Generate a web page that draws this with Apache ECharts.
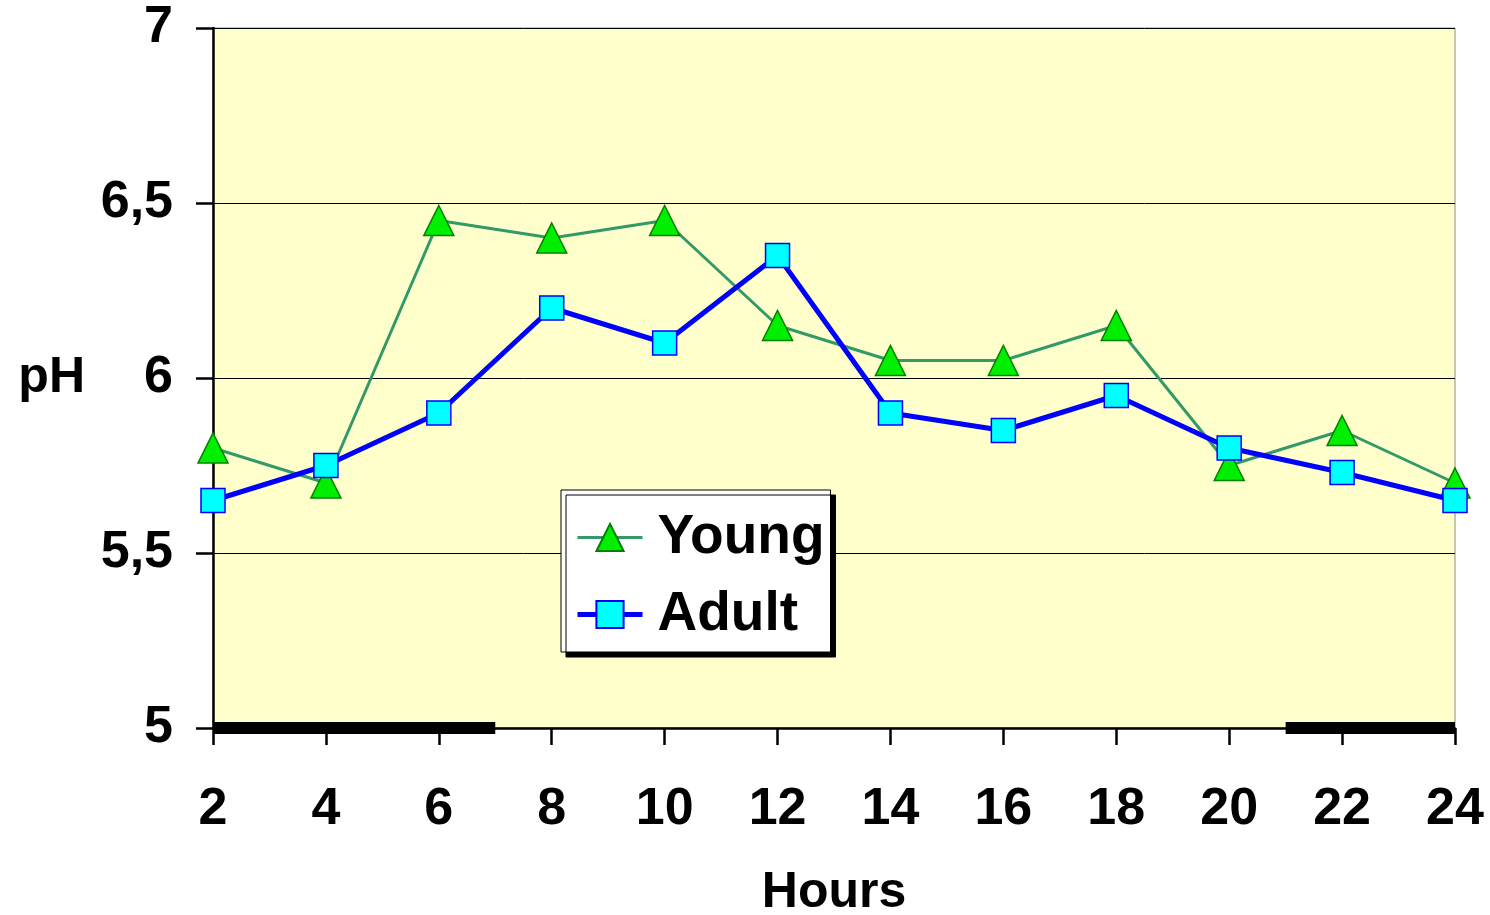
<!DOCTYPE html>
<html>
<head>
<meta charset="utf-8">
<script src="https://cdn.jsdelivr.net/npm/echarts@6/dist/echarts.min.js"></script>
<style>
  html, body { margin: 0; padding: 0; background: #fff; }
  #chart { width: 1490px; height: 915px; }
</style>
</head>
<body>
<div id="chart"></div>
<script>
// Sampling hours
const hours = [2, 4, 6, 8, 10, 12, 14, 16, 18, 20, 22, 24];
// pH of young animals
const young = [5.8, 5.7, 6.45, 6.4, 6.45, 6.15, 6.05, 6.05, 6.15, 5.75, 5.85, 5.7];
// pH of adult animals
const adult = [5.65, 5.75, 5.9, 6.2, 6.1, 6.35, 5.9, 5.85, 5.95, 5.8, 5.73, 5.65];
// Dark periods shown as black bars along the time axis [start hour, end hour]
const darkPeriods = [[2, 7], [21, 24]];

const FONT = '"Liberation Sans", Arial, sans-serif';

const chart = echarts.init(document.getElementById('chart'), null, { renderer: 'canvas' });

chart.setOption({
  animation: false,
  backgroundColor: '#ffffff',
  grid: {
    left: 213, right: 35, top: 28, bottom: 187,
    outerBoundsMode: 'none',
    containLabel: false,
    show: true,
    backgroundColor: '#FFFFCC',
    borderColor: '#8c8c8c',
    borderWidth: 1
  },
  legend: {
    left: 561, top: 490,
    orient: 'vertical',
    padding: [20, 6, 10, 14],
    itemGap: 22,
    itemWidth: 65,
    itemHeight: 34,
    backgroundColor: '#ffffff',
    borderColor: '#000000',
    borderWidth: 1,
    borderRadius: 0,
    shadowColor: '#000000',
    shadowBlur: 0,
    shadowOffsetX: 5,
    shadowOffsetY: 5,
    lineStyle: { width: 'inherit' },
    textStyle: {
      fontFamily: FONT, fontWeight: 'bold', fontSize: 55, color: '#000',
      padding: [0, 0, 0, 10]
    },
    data: ['Young', 'Adult']
  },
  xAxis: {
    type: 'value',
    min: 2, max: 24, interval: 2,
    name: 'Hours',
    nameLocation: 'middle',
    nameGap: 140,
    nameTextStyle: { fontFamily: FONT, fontWeight: 'bold', fontSize: 50, color: '#000' },
    axisLine: { show: true, onZero: false, lineStyle: { color: '#000', width: 2.5 } },
    axisTick: { show: true, inside: false, length: 17, lineStyle: { color: '#000', width: 2.5 } },
    axisLabel: { margin: 56, fontFamily: FONT, fontWeight: 'bold', fontSize: 52, color: '#000' },
    splitLine: { show: false }
  },
  yAxis: {
    type: 'value',
    min: 5, max: 7, interval: 0.5,
    name: 'pH',
    nameLocation: 'middle',
    nameRotate: 0,
    nameGap: 128,
    nameTextStyle: { fontFamily: FONT, fontWeight: 'bold', fontSize: 50, color: '#000' },
    axisLine: { show: true, lineStyle: { color: '#000', width: 2.5 } },
    axisTick: { show: true, inside: false, length: 17, lineStyle: { color: '#000', width: 2.5 } },
    axisLabel: {
      margin: 40, fontFamily: FONT, fontWeight: 'bold', fontSize: 52, color: '#000',
      formatter: v => String(v).replace('.', ',')
    },
    splitLine: { show: true, lineStyle: { color: '#000', width: 1 } }
  },
  series: [
    {
      name: 'Young',
      type: 'line',
      clip: false,
      data: hours.map((h, i) => [h, young[i]]),
      symbol: 'triangle',
      symbolSize: 30,
      lineStyle: { color: '#339966', width: 3 },
      itemStyle: { color: '#00EE00', borderColor: '#008000', borderWidth: 1.5 },
      z: 3,
      markLine: {
        silent: true,
        symbol: 'none',
        label: { show: false },
        lineStyle: { color: '#000', width: 12, type: 'solid' },
        data: darkPeriods.map(p => [{ coord: [p[0], 5] }, { coord: [p[1], 5] }])
      }
    },
    {
      name: 'Adult',
      type: 'line',
      clip: false,
      data: hours.map((h, i) => [h, adult[i]]),
      symbol: 'rect',
      symbolSize: 24,
      lineStyle: { color: '#0000FF', width: 5 },
      itemStyle: { color: '#00FFFF', borderColor: '#0000FF', borderWidth: 1.5 },
      z: 4
    }
  ]
});
</script>
</body>
</html>
